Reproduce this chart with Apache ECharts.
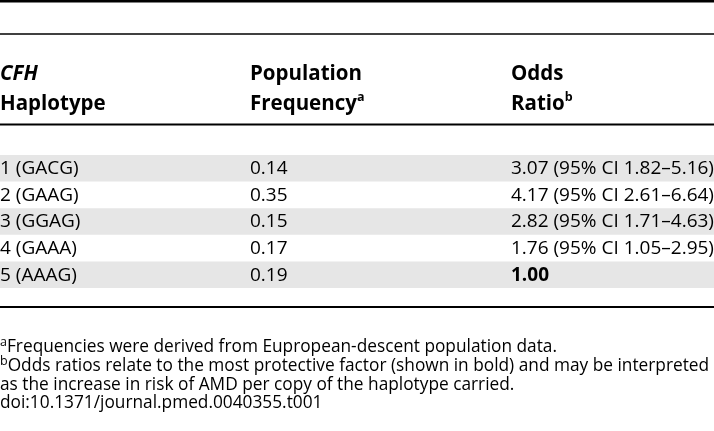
<!DOCTYPE html>
<html>
<head>
<meta charset="utf-8">
<script src="https://cdn.jsdelivr.net/npm/echarts@6/dist/echarts.min.js"></script>
<style>
html,body{margin:0;padding:0;background:#fff;}
#chart{width:714px;height:431px;}
</style>
</head>
<body>
<div id="chart"></div>
<script>
// ---- data ----
const haplotypes = ['1 (GACG)', '2 (GAAG)', '3 (GGAG)', '4 (GAAA)', '5 (AAAG)'];
const frequencies = [0.14, 0.35, 0.15, 0.17, 0.19];
const oddsRatios = [3.07, 4.17, 2.82, 1.76, 1.00];
const ciLow = [1.82, 2.61, 1.71, 1.05, null];
const ciHigh = [5.16, 6.64, 4.63, 2.95, null];
const headerLine1 = ['CFH', 'Population', 'Odds'];
const headerLine2 = ['Haplotype', 'Frequency', 'Ratio'];
const headerSup = ['', 'a', 'b'];
const footnoteMarks = ['a', 'b', '', ''];
const footnoteTexts = [
  'Frequencies were derived from Eupropean-descent population data.',
  'Odds ratios relate to the most protective factor (shown in bold) and may be interpreted',
  'as the increase in risk of AMD per copy of the haplotype carried.',
  'doi:10.1371/journal.pmed.0040355.t001'
];

// ---- layout ----
const FONT = '"Open Sans", "Noto Sans", sans-serif';
const colX = [0, 250, 511];
const shade = '#e6e6e6';
const ink = '#000';
const BODYW = 500;

const chart = echarts.init(document.getElementById('chart'), null, {renderer: 'canvas'});

const rowData = haplotypes.map((h, i) => [0, i]);

function oddsText(i) {
  if (ciLow[i] == null) return oddsRatios[i].toFixed(2);
  return oddsRatios[i].toFixed(2) + ' (95% CI ' + ciLow[i].toFixed(2) + '\u2013' + ciHigh[i].toFixed(2) + ')';
}

const graphics = [];
// rules
[[1.3, 2.6], [34, 1.6], [124.5, 2], [307, 2]].forEach(([y, w]) => {
  graphics.push({type: 'line', shape: {x1: 0, y1: y, x2: 714, y2: y}, style: {stroke: ink, lineWidth: w}, silent: true});
});
// headers
headerLine1.forEach((t, c) => {
  graphics.push({type: 'text', x: colX[c], y: 74, style: {
    text: t, fill: ink, fontFamily: FONT, fontSize: 20.5, fontWeight: 'bold',
    fontStyle: c === 0 ? 'italic' : 'normal', verticalAlign: 'middle', align: 'left'}});
});
headerLine2.forEach((t, c) => {
  graphics.push({type: 'text', x: colX[c], y: 103, style: {
    text: '{m|' + t + '}' + (headerSup[c] ? '{s|' + headerSup[c] + '}' : ''),
    verticalAlign: 'middle', align: 'left',
    rich: {
      m: {fill: ink, fontFamily: FONT, fontSize: 20.5, fontWeight: 'bold', lineHeight: 24, verticalAlign: 'bottom'},
      s: {fill: ink, fontFamily: FONT, fontSize: 12.5, fontWeight: 'bold', lineHeight: 14, verticalAlign: 'top'}
    }}});
});
// footnotes
const fnY = [346, 365, 383.5, 402];
footnoteTexts.forEach((t, i) => {
  graphics.push({type: 'text', x: 0, y: fnY[i], style: {
    text: (footnoteMarks[i] ? '{s|' + footnoteMarks[i] + '}' : '') + '{m|' + t + '}',
    verticalAlign: 'middle', align: 'left',
    rich: {
      m: {fill: ink, fontFamily: FONT, fontSize: 17.3, fontWeight: BODYW, lineHeight: 20, verticalAlign: 'bottom'},
      s: {fill: ink, fontFamily: FONT, fontSize: 12.5, fontWeight: BODYW, lineHeight: 14, verticalAlign: 'top'}
    }}});
});

chart.setOption({
  animation: false,
  backgroundColor: '#fff',
  grid: {left: 0, right: 0, top: 155, height: 133},
  xAxis: {type: 'value', min: 0, max: 714, show: false},
  yAxis: {type: 'category', data: haplotypes, inverse: true, show: false, boundaryGap: true},
  graphic: graphics,
  series: [{
    type: 'custom',
    data: rowData,
    encode: {x: 0, y: 1},
    renderItem: function (params, api) {
      const i = api.value(1);
      const c = api.coord([0, i]);
      const bandH = api.size([0, 1])[1];
      const cy = c[1];
      const x0 = c[0];
      const children = [];
      if (i % 2 === 0) {
        children.push({type: 'rect', shape: {x: x0, y: cy - bandH / 2, width: params.coordSys.width, height: bandH}, style: {fill: shade}});
      }
      const cells = [haplotypes[i], frequencies[i].toFixed(2), oddsText(i)];
      cells.forEach((t, col) => {
        const bold = col === 2 && ciLow[i] == null;
        children.push({type: 'text', x: x0 + colX[col], y: cy + 0.5, style: {
          text: t, fill: ink, fontFamily: FONT, fontSize: 19, fontWeight: bold ? 'bold' : BODYW,
          verticalAlign: 'middle', align: 'left'}});
      });
      return {type: 'group', children: children};
    }
  }]
});
</script>
</body>
</html>
